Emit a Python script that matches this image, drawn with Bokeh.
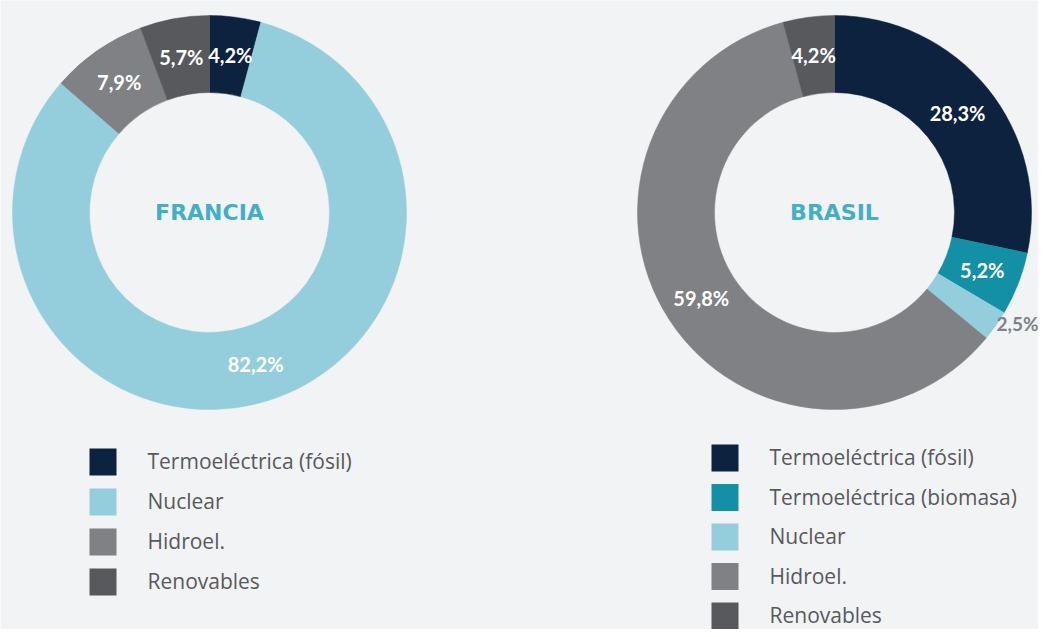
import math
from bokeh.plotting import figure
from bokeh.models import Range1d, ColumnDataSource
from bokeh.core.properties import value
from bokeh.embed import file_html
from bokeh.resources import INLINE

# ---- data ----
francia_cats = ["Termoeléctrica (fósil)", "Nuclear", "Hidroel.", "Renovables"]
francia_vals = [4.2, 82.2, 7.9, 5.7]
francia_cols = ["#0d223f", "#94cedd", "#808185", "#58595d"]

brasil_cats = ["Termoeléctrica (fósil)", "Termoeléctrica (biomasa)", "Nuclear", "Hidroel.", "Renovables"]
brasil_vals = [28.3, 5.2, 2.5, 59.8, 4.2]
brasil_cols = ["#0d223f", "#138fa6", "#94cedd", "#808185", "#58595d"]

BG = "#f2f3f5"
W, H = 1038, 629

p = figure(width=W, height=H, output_backend="svg", toolbar_location=None,
           x_range=Range1d(0, W), y_range=Range1d(0, H), min_border=0)
p.axis.visible = False
p.grid.visible = False
p.outline_line_color = None
p.background_fill_color = BG
p.border_fill_color = BG

def Y(img_y):
    return H - img_y

def donut(cx, cy, vals, cols, title, outside=None, legend_x=0, legend_y=0, step=40, cats=None):
    r_in, r_out = 120, 197
    total = sum(vals)
    starts, ends = [], []
    cum = 0.0
    for v in vals:
        s = cum / total
        cum += v
        e = cum / total
        starts.append(math.radians(90 - e * 360))
        ends.append(math.radians(90 - s * 360))
    src = ColumnDataSource(dict(start=starts, end=ends, color=cols))
    p.annular_wedge(x=cx, y=Y(cy), inner_radius=r_in, outer_radius=r_out,
                    start_angle="start", end_angle="end",
                    direction="anticlock", fill_color="color", line_color="color",
                    line_width=0.5, source=src)
    # labels
    cum = 0.0
    lx, ly, lt, lxo, lyo, lto = [], [], [], [], [], []
    for i, v in enumerate(vals):
        mid = (cum + v / 2) / total
        cum += v
        a = math.radians(90 - mid * 360)
        txt = f"{v:.1f}".replace(".", ",") + "%"
        if outside is not None and i == outside:
            r = 198
            lxo.append(cx + r * math.cos(a))
            lyo.append(Y(cy) + r * math.sin(a) + 3)
            lto.append(txt)
        else:
            r = (r_in + r_out) / 2
            lx.append(cx + r * math.cos(a))
            ly.append(Y(cy) + r * math.sin(a))
            lt.append(txt)
    p.text(x=lx, y=ly, text=lt, text_align="center", text_baseline="middle",
           text_font=value("Lato"), text_font_style="bold", text_font_size="20px",
           text_color="white")
    if lto:
        p.text(x=lxo, y=lyo, text=lto, text_align="left", text_baseline="middle",
               text_font=value("Lato"), text_font_style="bold", text_font_size="19px",
               text_color="#808185")
    p.text(x=[cx], y=[Y(cy)], text=[title], text_align="center", text_baseline="middle",
           text_font=value("DejaVu Sans"), text_font_style="bold", text_font_size="22px",
           text_color="#44aec8")
    # legend
    n = len(cats)
    sx = [legend_x + 13.5] * n
    sy = [Y(legend_y + 13.5 + i * step) for i in range(n)]
    p.rect(x=sx, y=sy, width=27, height=27, fill_color=cols, line_color=None)
    p.text(x=[legend_x + 58] * n, y=[s + 1 for s in sy], text=cats,
           text_align="left", text_baseline="middle",
           text_font=value("Open Sans"), text_font_size="21px", text_color="#58595b")

donut(209, 212, francia_vals, francia_cols, "FRANCIA",
      legend_x=89, legend_y=448, step=40, cats=francia_cats)
donut(834, 212, brasil_vals, brasil_cols, "BRASIL", outside=2,
      legend_x=711, legend_y=444, step=39.5, cats=brasil_cats)

open("out.html", "w").write(file_html(p, INLINE))
